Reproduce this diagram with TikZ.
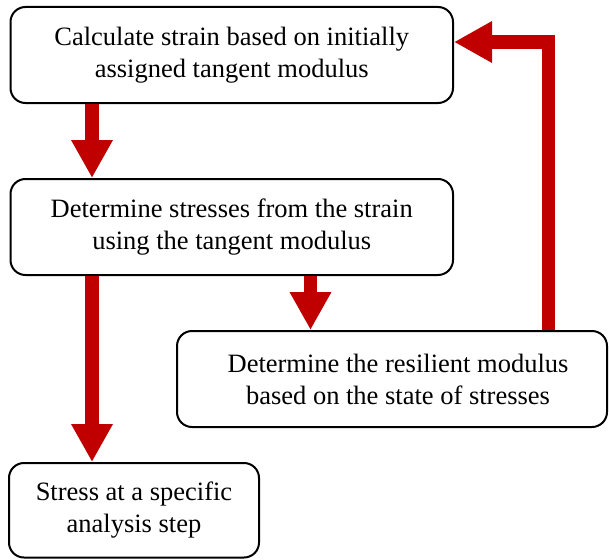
\documentclass[tikz,border=0pt]{standalone}
\usepackage{fontspec}
\setmainfont{Liberation Serif}
\usetikzlibrary{arrows.meta,calc}
\definecolor{flowred}{HTML}{C00000}
\begin{document}
\begin{tikzpicture}[x=1pt,y=-1pt,
  boxtext/.style={align=center,inner sep=0pt,
    font=\fontsize{26.5}{32}\selectfont},
  stepbox/.style={boxtext,draw=black,line width=2pt,rounded corners=15pt,
    fill=white},
  flow/.style={draw=flowred,line width=13.5pt,line join=miter,
    -{Triangle[width=39pt,length=38pt]}}]
\useasboundingbox (0,0) rectangle (609,559);

% process boxes
\node[stepbox,minimum width=442.5pt,minimum height=96pt] (b1) at (231.75,55)
  {Calculate strain based on initially\\assigned tangent modulus};
\node[stepbox,minimum width=442.5pt,minimum height=96pt] (b2) at (231.75,227)
  {Determine stresses from the strain\\using the tangent modulus};
\node[stepbox,minimum width=430pt,minimum height=96pt] (b3) at (392,379) {};
\node[boxtext] (b3t) at ($(b3.center)+(6,0)$)
  {Determine the resilient modulus\\based on the state of stresses};
\node[stepbox,minimum width=250pt,minimum height=94.5pt] (b4) at (134,510.25)
  {Stress at a specific\\analysis step};

% corner of the feedback loop
\coordinate (fb) at ($(b3.north west)+(372.5,-288)$);

% connectors
\draw[flow] ($(b1.south west)+(82.5,0)$) -- ($(b2.north west)+(82.5,0)$);
\draw[flow] ($(b2.south west)+(82.5,0)$) -- ($(b4.north west)+(84,0)$);
\draw[flow] ($(b2.south west)+(301,0)$) -- ($(b3.north west)+(134.5,0)$);
\draw[flow] (fb |- b3.north) -- (fb) -- (fb -| b1.east);
\end{tikzpicture}
\end{document}
